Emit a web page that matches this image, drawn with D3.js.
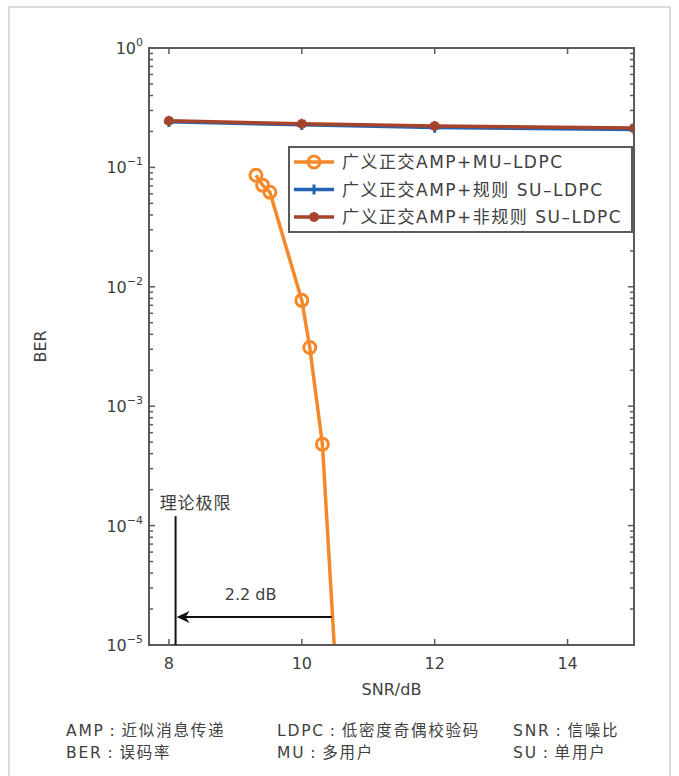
<!DOCTYPE html>
<html>
<head>
<meta charset="utf-8">
<script src="https://cdn.jsdelivr.net/npm/d3@7"></script>
<style>
  body { margin: 0; background: #fff; }
  text { font-family: "DejaVu Sans", "Noto Sans CJK SC", sans-serif; fill: #404040; }
</style>
</head>
<body>
<div id="chart"></div>
<script>
// data
var snrMU = [9.31, 9.41, 9.52, 10.0, 10.12, 10.31, 10.52];
var berMU = [0.086, 0.071, 0.062, 0.0077, 0.0031, 0.00048, 0.000005];
var snrSU = [8, 10, 12, 15];
var berRegular = [0.240, 0.226, 0.215, 0.207];
var berIrregular = [0.246, 0.232, 0.222, 0.214];
var seriesNames = ["广义正交AMP+MU–LDPC", "广义正交AMP+规则 SU–LDPC", "广义正交AMP+非规则 SU–LDPC"];
var xTicks = [8, 10, 12, 14];
var yTicks = [1e-5, 1e-4, 1e-3, 1e-2, 1e-1, 1];
var yTickExp = ["\u22125", "\u22124", "\u22123", "\u22122", "\u22121", "0"];
var limitSNR = 8.1;
var arrowFrom = 10.45;
var arrowBER = 1.72e-5;
var limitTopBER = 1.2e-4;
var notes = [["AMP\u2009:\u2009近似消息传递", "LDPC\u2009:\u2009低密度奇偶校验码", "SNR\u2009:\u2009信噪比"],
             ["BER\u2009:\u2009误码率", "MU\u2009:\u2009多用户", "SU\u2009:\u2009单用户"]];

var svgWidth = 679;
var svgHeight = 776;
var margin = { top: 48, right: 45, bottom: 131, left: 149 };
var width = svgWidth - margin.left - margin.right;
var height = svgHeight - margin.top - margin.bottom;

var colors = ["#f5892a", "#2462b3", "#a6432b"];
var axisColor = "#5a5a5a";

var svg = d3.select("#chart")
  .append("svg")
  .attr("width", svgWidth)
  .attr("height", svgHeight);

// outer frame
svg.append("rect")
  .attr("x", 9).attr("y", 7)
  .attr("width", 661).attr("height", 820)
  .attr("fill", "none")
  .attr("stroke", "#cfcfcf")
  .attr("stroke-width", 1.5);

var chartGroup = svg.append("g")
  .attr("transform", `translate(${margin.left}, ${margin.top})`);

var xScale = d3.scaleLinear().domain([7.7, 15]).range([0, width]);
var yScale = d3.scaleLog().domain([1e-5, 1]).range([height, 0]);

chartGroup.append("clipPath").attr("id", "clip")
  .append("rect").attr("width", width).attr("height", height);

// ticks (inward, on all four sides)
var minorTicks = [];
yTicks.slice(0, -1).forEach(function(d) {
  for (var k = 2; k <= 9; k++) minorTicks.push(d * k);
});
var tickG = chartGroup.append("g").attr("stroke", axisColor).attr("stroke-width", 1.5);
xTicks.forEach(function(t) {
  tickG.append("line").attr("x1", xScale(t)).attr("x2", xScale(t)).attr("y1", height).attr("y2", height - 6);
  tickG.append("line").attr("x1", xScale(t)).attr("x2", xScale(t)).attr("y1", 0).attr("y2", 6);
});
yTicks.forEach(function(t) {
  tickG.append("line").attr("x1", 0).attr("x2", 6).attr("y1", yScale(t)).attr("y2", yScale(t));
  tickG.append("line").attr("x1", width).attr("x2", width - 6).attr("y1", yScale(t)).attr("y2", yScale(t));
});
minorTicks.forEach(function(t) {
  tickG.append("line").attr("x1", 0).attr("x2", 4).attr("y1", yScale(t)).attr("y2", yScale(t));
  tickG.append("line").attr("x1", width).attr("x2", width - 4).attr("y1", yScale(t)).attr("y2", yScale(t));
});

// tick labels
chartGroup.selectAll(".xlab").data(xTicks).enter().append("text")
  .attr("x", d => xScale(d))
  .attr("y", height + 24)
  .attr("text-anchor", "middle")
  .attr("font-size", 16)
  .text(d => d);

var ylab = chartGroup.selectAll(".ylab").data(yTicks).enter().append("text")
  .attr("x", -6)
  .attr("y", d => yScale(d) + 6)
  .attr("text-anchor", "end")
  .attr("font-size", 16);
ylab.append("tspan").text("10");
ylab.append("tspan").attr("dy", -8).attr("font-size", 11).text((d, i) => yTickExp[i]);

// axis titles
chartGroup.append("text")
  .attr("x", width / 2).attr("y", height + 50)
  .attr("text-anchor", "middle").attr("font-size", 16)
  .text("SNR/dB");
chartGroup.append("text")
  .attr("transform", `translate(${-103}, ${height / 2}) rotate(-90)`)
  .attr("text-anchor", "middle").attr("font-size", 16)
  .text("BER");

// curves
var lineGen = d3.line().x(d => xScale(d[0])).y(d => yScale(d[1]));
var plotG = chartGroup.append("g").attr("clip-path", "url(#clip)");

var regData = d3.zip(snrSU, berRegular);
var irrData = d3.zip(snrSU, berIrregular);
var muData = d3.zip(snrMU, berMU);

plotG.append("path").datum(regData).attr("d", lineGen)
  .attr("fill", "none").attr("stroke", colors[1]).attr("stroke-width", 3);
regData.forEach(function(d) {
  plotG.append("path").attr("transform", `translate(${xScale(d[0])},${yScale(d[1])})`)
    .attr("d", "M-5,0H5M0,-5V5").attr("stroke", colors[1]).attr("stroke-width", 3);
});

plotG.append("path").datum(irrData).attr("d", lineGen)
  .attr("fill", "none").attr("stroke", colors[2]).attr("stroke-width", 3.5);
function starMarker(g, x, y, c) {
  g.append("path").attr("transform", `translate(${x},${y})`)
    .attr("d", "M-5,0H5M0,-5V5M-3.5,-3.5L3.5,3.5M-3.5,3.5L3.5,-3.5")
    .attr("stroke", c).attr("stroke-width", 3);
}
irrData.forEach(function(d) { starMarker(plotG, xScale(d[0]), yScale(d[1]), colors[2]); });

plotG.append("path").datum(muData).attr("d", lineGen)
  .attr("fill", "none").attr("stroke", colors[0]).attr("stroke-width", 3.5);
muData.forEach(function(d) {
  plotG.append("circle").attr("cx", xScale(d[0])).attr("cy", yScale(d[1])).attr("r", 6)
    .attr("fill", "none").attr("stroke", colors[0]).attr("stroke-width", 3);
});

// frame
chartGroup.append("rect").attr("width", width).attr("height", height)
  .attr("fill", "none").attr("stroke", axisColor).attr("stroke-width", 2);

// annotation: theoretical limit and 2.2 dB gap
chartGroup.append("line")
  .attr("x1", xScale(limitSNR)).attr("x2", xScale(limitSNR))
  .attr("y1", yScale(limitTopBER)).attr("y2", height)
  .attr("stroke", "#111").attr("stroke-width", 2);
chartGroup.append("line")
  .attr("x1", xScale(arrowFrom)).attr("x2", xScale(limitSNR) + 6)
  .attr("y1", yScale(arrowBER)).attr("y2", yScale(arrowBER))
  .attr("stroke", "#111").attr("stroke-width", 2);
var ax = xScale(limitSNR) + 1, ay = yScale(arrowBER);
chartGroup.append("path")
  .attr("d", `M${ax},${ay}L${ax + 13},${ay - 6}L${ax + 9},${ay}L${ax + 13},${ay + 6}Z`)
  .attr("fill", "#111");
chartGroup.append("text")
  .attr("x", xScale(7.86)).attr("y", yScale(limitTopBER) - 7)
  .attr("font-size", 17).attr("letter-spacing", 1).text("理论极限");
chartGroup.append("text")
  .attr("x", xScale(9.23)).attr("y", yScale(arrowBER) - 17)
  .attr("text-anchor", "middle").attr("font-size", 16).text("2.2 dB");

// legend
var legend = svg.append("g").attr("transform", "translate(289, 147)");
legend.append("rect").attr("width", 343).attr("height", 85)
  .attr("fill", "#fff").attr("stroke", axisColor).attr("stroke-width", 2);
seriesNames.forEach(function(name, i) {
  var y = 15 + i * 27.5;
  legend.append("line").attr("x1", 5).attr("x2", 45).attr("y1", y).attr("y2", y)
    .attr("stroke", colors[i]).attr("stroke-width", 3.5);
  if (i === 0) {
    legend.append("circle").attr("cx", 25).attr("cy", y).attr("r", 6)
      .attr("fill", "none").attr("stroke", colors[0]).attr("stroke-width", 3);
  } else if (i === 1) {
    legend.append("path").attr("transform", `translate(25,${y})`)
      .attr("d", "M-5,0H5M0,-5V5").attr("stroke", colors[1]).attr("stroke-width", 3);
  } else {
    starMarker(legend, 25, y, colors[2]);
  }
  legend.append("text").attr("x", 53).attr("y", y + 6)
    .attr("font-size", 17).attr("letter-spacing", 1.5).text(name);
});

// footnote
var noteX = [66, 277, 513];
notes.forEach(function(row, r) {
  row.forEach(function(t, c) {
    svg.append("text").attr("x", noteX[c]).attr("y", 736 + r * 22)
      .attr("font-size", 15.5).attr("letter-spacing", 1.8).text(t);
  });
});
</script>
</body>
</html>
